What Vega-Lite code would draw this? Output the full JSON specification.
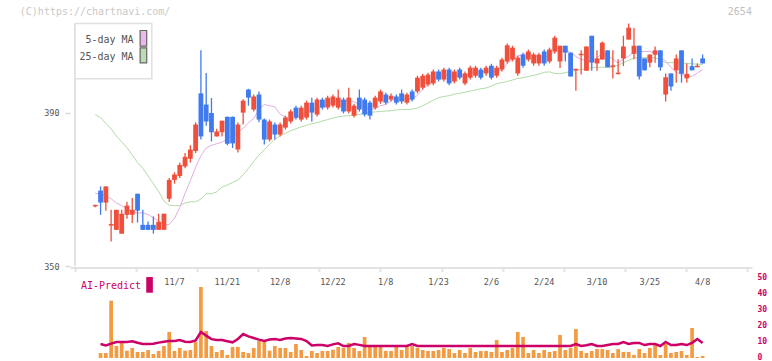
{
"$schema": "https://vega.github.io/schema/vega-lite/v6.json",
"width": 682, "height": 358,
"autosize": {"type": "none"},
"padding": {"left": 70, "top": 0, "right": 20, "bottom": 3},
"background": "white",
"config": {"view": {"stroke": null}, "font": "DejaVu Sans Mono", "axis": {"labelFont": "DejaVu Sans Mono", "grid": false}},
"datasets": {
"k": [
{"i":0,"o":365.6,"h":366.0,"l":365.4,"c":366.0,"v":0,"a":null,"m5":369.0,"m25":389.5},
{"i":1,"o":369.7,"h":370.8,"l":363.4,"c":366.6,"v":3.1,"a":8.75,"m5":368.8,"m25":388.7},
{"i":2,"o":366.6,"h":370.8,"l":364.5,"c":370.8,"v":3.1,"a":7.9,"m5":368.3,"m25":387.2},
{"i":3,"o":360.6,"h":364.7,"l":356.5,"c":361.0,"v":35.8,"a":9.0,"m5":367.6,"m25":385.8},
{"i":4,"o":359.5,"h":364.7,"l":359.5,"c":364.7,"v":7.5,"a":10,"m5":366.5,"m25":383.9},
{"i":5,"o":358.5,"h":364.7,"l":358.5,"c":363.7,"v":10.6,"a":10,"m5":365.8,"m25":382.4},
{"i":6,"o":363.4,"h":366.8,"l":362.4,"c":365.8,"v":4.6,"a":10,"m5":365.0,"m25":380.9},
{"i":7,"o":363.4,"h":367.8,"l":361.3,"c":364.7,"v":6.3,"a":10.4,"m5":364.2,"m25":379.0},
{"i":8,"o":368.9,"h":368.9,"l":361.4,"c":364.5,"v":3.75,"a":9.5,"m5":363.9,"m25":377.0},
{"i":9,"o":360.8,"h":364.7,"l":359.5,"c":359.5,"v":3.75,"a":8.75,"m5":363.9,"m25":375.5},
{"i":10,"o":360.8,"h":361.7,"l":359.5,"c":359.5,"v":5,"a":8.75,"m5":363.5,"m25":373.5},
{"i":11,"o":360.8,"h":363.0,"l":358.5,"c":359.5,"v":2.5,"a":8.9,"m5":362.6,"m25":371.5},
{"i":12,"o":359.5,"h":363.7,"l":359.5,"c":361.6,"v":4.4,"a":9.6,"m5":361.8,"m25":369.5},
{"i":13,"o":359.5,"h":363.7,"l":359.5,"c":363.7,"v":7.5,"a":10.2,"m5":360.8,"m25":367.0},
{"i":14,"o":367.6,"h":373.0,"l":366.8,"c":372.5,"v":16.3,"a":10.6,"m5":360.9,"m25":365.9},
{"i":15,"o":372.5,"h":374.5,"l":371.5,"c":373.9,"v":4.4,"a":10.6,"m5":362.5,"m25":365.8},
{"i":16,"o":373.5,"h":377.0,"l":373.0,"c":376.4,"v":6.3,"a":11.25,"m5":365.3,"m25":365.8},
{"i":17,"o":376.0,"h":379.5,"l":375.5,"c":378.5,"v":4.6,"a":10.2,"m5":369.0,"m25":366.5},
{"i":18,"o":378.0,"h":381.5,"l":377.0,"c":380.4,"v":5,"a":10,"m5":372.3,"m25":366.8},
{"i":19,"o":380.0,"h":387.5,"l":379.5,"c":386.9,"v":10,"a":11,"m5":375.8,"m25":366.8},
{"i":20,"o":395.0,"h":406.2,"l":383.0,"c":383.8,"v":44.4,"a":16.25,"m5":378.8,"m25":367.5},
{"i":21,"o":392.1,"h":400.3,"l":386.6,"c":387.7,"v":16.9,"a":14,"m5":380.8,"m25":368.9},
{"i":22,"o":389.9,"h":393.8,"l":382.5,"c":384.9,"v":7.5,"a":11.8,"m5":381.5,"m25":368.9},
{"i":23,"o":383.8,"h":385.8,"l":383.8,"c":385.1,"v":3.75,"a":11.25,"m5":381.9,"m25":369.4},
{"i":24,"o":384.9,"h":387.9,"l":383.8,"c":387.9,"v":5,"a":11.25,"m5":382.3,"m25":370.6},
{"i":25,"o":388.9,"h":389.0,"l":381.5,"c":381.9,"v":1.9,"a":10.5,"m5":383.2,"m25":371.2},
{"i":26,"o":388.9,"h":389.0,"l":380.8,"c":382.0,"v":6.9,"a":9.8,"m5":384.0,"m25":371.8},
{"i":27,"o":380.4,"h":387.4,"l":379.6,"c":386.9,"v":6.9,"a":11.9,"m5":384.8,"m25":372.5},
{"i":28,"o":390.0,"h":393.5,"l":386.9,"c":393.1,"v":3.75,"a":15,"m5":386.0,"m25":373.8},
{"i":29,"o":396.0,"h":396.2,"l":391.8,"c":393.9,"v":3.1,"a":13.5,"m5":387.3,"m25":375.5},
{"i":30,"o":390.8,"h":394.7,"l":390.3,"c":394.2,"v":6.3,"a":12.5,"m5":388.5,"m25":377.3},
{"i":31,"o":394.7,"h":395.5,"l":387.5,"c":388.2,"v":10.6,"a":11.5,"m5":390.8,"m25":379.0},
{"i":32,"o":388.2,"h":388.5,"l":381.7,"c":383.0,"v":10,"a":10.6,"m5":392.1,"m25":380.3},
{"i":33,"o":383.0,"h":388.2,"l":382.5,"c":387.7,"v":4.6,"a":11.5,"m5":391.8,"m25":381.8},
{"i":34,"o":386.9,"h":387.4,"l":383.0,"c":384.3,"v":7.5,"a":11.9,"m5":391.5,"m25":383.0},
{"i":35,"o":384.3,"h":387.4,"l":383.8,"c":386.9,"v":6.3,"a":11.25,"m5":389.6,"m25":384.0},
{"i":36,"o":386.1,"h":389.2,"l":385.6,"c":388.7,"v":6.3,"a":12.2,"m5":388.8,"m25":384.6},
{"i":37,"o":387.7,"h":390.8,"l":387.2,"c":390.3,"v":3.75,"a":12.5,"m5":388.5,"m25":385.3},
{"i":38,"o":391.3,"h":391.8,"l":388.2,"c":388.7,"v":8.75,"a":12.2,"m5":388.6,"m25":385.8},
{"i":39,"o":388.2,"h":391.8,"l":387.7,"c":391.3,"v":5,"a":11.9,"m5":389.3,"m25":386.3},
{"i":40,"o":388.7,"h":393.1,"l":388.2,"c":392.6,"v":1.25,"a":10.6,"m5":390.3,"m25":386.7},
{"i":41,"o":392.6,"h":393.9,"l":387.7,"c":390.0,"v":4.4,"a":7.8,"m5":390.6,"m25":387.1},
{"i":42,"o":389.5,"h":393.9,"l":389.0,"c":393.4,"v":3.1,"a":8.1,"m5":391.2,"m25":387.4},
{"i":43,"o":393.4,"h":393.9,"l":390.8,"c":391.3,"v":4.4,"a":8.1,"m5":391.7,"m25":387.8},
{"i":44,"o":391.3,"h":394.4,"l":390.8,"c":393.9,"v":4.4,"a":7.5,"m5":392.2,"m25":388.2},
{"i":45,"o":391.8,"h":394.7,"l":391.3,"c":394.2,"v":5.2,"a":8.5,"m5":392.6,"m25":388.6},
{"i":46,"o":391.3,"h":396.0,"l":390.8,"c":393.9,"v":6.9,"a":9.2,"m5":393.3,"m25":388.9},
{"i":47,"o":393.4,"h":393.9,"l":389.8,"c":390.3,"v":6.3,"a":7.5,"m5":392.7,"m25":389.1},
{"i":48,"o":390.3,"h":396.5,"l":389.8,"c":393.9,"v":9.4,"a":7.5,"m5":393.2,"m25":389.2},
{"i":49,"o":389.2,"h":392.3,"l":388.7,"c":391.8,"v":6.3,"a":8.75,"m5":392.8,"m25":389.4},
{"i":50,"o":393.9,"h":396.0,"l":390.3,"c":390.8,"v":4.4,"a":8.2,"m5":392.1,"m25":389.5},
{"i":51,"o":393.4,"h":393.9,"l":389.0,"c":389.5,"v":13.1,"a":7.5,"m5":391.3,"m25":389.8},
{"i":52,"o":392.6,"h":393.1,"l":388.2,"c":389.2,"v":6.9,"a":7.5,"m5":391.0,"m25":390.0},
{"i":53,"o":391.3,"h":394.4,"l":390.8,"c":393.9,"v":6.9,"a":7.5,"m5":391.0,"m25":390.2},
{"i":54,"o":392.9,"h":396.0,"l":392.3,"c":395.5,"v":7.5,"a":7.5,"m5":391.8,"m25":390.3},
{"i":55,"o":394.7,"h":395.2,"l":392.1,"c":392.6,"v":4.4,"a":7.5,"m5":392.1,"m25":390.4},
{"i":56,"o":393.4,"h":395.0,"l":392.9,"c":394.4,"v":4.4,"a":7.5,"m5":393.1,"m25":390.5},
{"i":57,"o":394.2,"h":394.7,"l":392.1,"c":392.6,"v":6.9,"a":7.5,"m5":393.8,"m25":390.7},
{"i":58,"o":395.0,"h":396.0,"l":392.3,"c":392.9,"v":5,"a":7.5,"m5":393.6,"m25":390.8},
{"i":59,"o":392.6,"h":395.2,"l":392.1,"c":394.7,"v":6.9,"a":7.5,"m5":393.4,"m25":390.8},
{"i":60,"o":395.5,"h":396.0,"l":392.9,"c":393.4,"v":7.5,"a":8.75,"m5":393.6,"m25":390.9},
{"i":61,"o":395.5,"h":399.6,"l":395.0,"c":399.1,"v":6.3,"a":7.5,"m5":394.5,"m25":391.2},
{"i":62,"o":396.5,"h":400.1,"l":396.0,"c":399.6,"v":5,"a":7.5,"m5":396.0,"m25":391.8},
{"i":63,"o":397.3,"h":400.4,"l":396.8,"c":399.9,"v":4.4,"a":7.5,"m5":397.4,"m25":392.5},
{"i":64,"o":397.6,"h":401.2,"l":397.1,"c":400.7,"v":4.4,"a":7.5,"m5":398.5,"m25":393.2},
{"i":65,"o":400.7,"h":401.2,"l":398.1,"c":398.6,"v":5,"a":7.5,"m5":399.6,"m25":393.9},
{"i":66,"o":398.6,"h":401.7,"l":398.1,"c":401.2,"v":6.3,"a":7.5,"m5":400.0,"m25":394.2},
{"i":67,"o":401.2,"h":401.7,"l":397.1,"c":397.6,"v":5.6,"a":7.5,"m5":399.6,"m25":394.4},
{"i":68,"o":398.1,"h":401.2,"l":397.6,"c":400.7,"v":3.1,"a":7.5,"m5":399.8,"m25":394.8},
{"i":69,"o":401.2,"h":401.7,"l":398.6,"c":399.1,"v":5,"a":7.5,"m5":399.4,"m25":395.0},
{"i":70,"o":397.6,"h":400.7,"l":397.1,"c":400.2,"v":3.1,"a":7.5,"m5":399.8,"m25":395.3},
{"i":71,"o":399.1,"h":402.2,"l":398.6,"c":401.7,"v":6.3,"a":7.5,"m5":400.1,"m25":395.6},
{"i":72,"o":399.6,"h":402.2,"l":399.1,"c":401.7,"v":3.75,"a":7.5,"m5":400.7,"m25":395.9},
{"i":73,"o":401.2,"h":401.7,"l":398.6,"c":399.1,"v":4.4,"a":7.5,"m5":400.4,"m25":396.2},
{"i":74,"o":400.2,"h":402.2,"l":399.6,"c":401.7,"v":4.4,"a":7.5,"m5":400.9,"m25":396.4},
{"i":75,"o":402.2,"h":402.7,"l":398.6,"c":399.1,"v":3.75,"a":7.5,"m5":400.7,"m25":396.9},
{"i":76,"o":399.6,"h":402.2,"l":399.1,"c":401.7,"v":11.25,"a":7.5,"m5":400.7,"m25":397.5},
{"i":77,"o":401.2,"h":404.3,"l":400.7,"c":403.8,"v":3.75,"a":7.5,"m5":401.1,"m25":397.8},
{"i":78,"o":403.3,"h":408.0,"l":402.8,"c":407.5,"v":5,"a":7.5,"m5":402.8,"m25":398.1},
{"i":79,"o":403.8,"h":407.4,"l":403.3,"c":406.9,"v":6.3,"a":7.5,"m5":403.8,"m25":398.5},
{"i":80,"o":400.2,"h":404.8,"l":399.6,"c":404.3,"v":16.25,"a":7.5,"m5":404.8,"m25":398.9},
{"i":81,"o":405.1,"h":405.6,"l":401.7,"c":402.2,"v":13.1,"a":7.5,"m5":405.1,"m25":399.1},
{"i":82,"o":403.8,"h":406.4,"l":403.3,"c":405.9,"v":3.1,"a":7.5,"m5":405.4,"m25":399.4},
{"i":83,"o":402.8,"h":405.6,"l":402.2,"c":405.1,"v":5,"a":7.5,"m5":404.9,"m25":399.7},
{"i":84,"o":402.8,"h":405.6,"l":402.2,"c":405.1,"v":3.1,"a":7.5,"m5":404.5,"m25":400.0},
{"i":85,"o":405.9,"h":406.4,"l":402.2,"c":402.8,"v":5,"a":7.5,"m5":404.2,"m25":400.5},
{"i":86,"o":403.3,"h":406.9,"l":402.8,"c":406.4,"v":3.75,"a":7.5,"m5":405.1,"m25":400.6},
{"i":87,"o":405.9,"h":410.0,"l":405.3,"c":409.5,"v":4.4,"a":7.5,"m5":405.8,"m25":400.2},
{"i":88,"o":403.3,"h":407.4,"l":401.6,"c":407.4,"v":14.4,"a":7.5,"m5":406.0,"m25":400.1},
{"i":89,"o":407.4,"h":407.4,"l":403.3,"c":405.6,"v":5,"a":7.5,"m5":406.3,"m25":400.4},
{"i":90,"o":405.6,"h":405.6,"l":399.4,"c":399.4,"v":6.3,"a":7.5,"m5":405.7,"m25":400.7},
{"i":91,"o":401.0,"h":401.4,"l":395.7,"c":401.4,"v":18.1,"a":8.75,"m5":404.6,"m25":401.0},
{"i":92,"o":404.9,"h":406.2,"l":399.9,"c":405.3,"v":4.4,"a":7.5,"m5":403.8,"m25":401.2},
{"i":93,"o":400.9,"h":407.2,"l":400.9,"c":407.2,"v":3.1,"a":8.0,"m5":403.7,"m25":401.5},
{"i":94,"o":410.0,"h":410.0,"l":400.9,"c":403.0,"v":4.4,"a":8.75,"m5":403.2,"m25":401.7},
{"i":95,"o":402.8,"h":406.2,"l":400.9,"c":404.1,"v":5.6,"a":7.5,"m5":404.2,"m25":401.8},
{"i":96,"o":403.8,"h":408.5,"l":403.8,"c":408.2,"v":5.6,"a":7.5,"m5":405.5,"m25":401.8},
{"i":97,"o":406.2,"h":406.2,"l":401.8,"c":401.8,"v":5,"a":8.1,"m5":404.9,"m25":401.8},
{"i":98,"o":401.9,"h":406.2,"l":398.9,"c":402.3,"v":3.1,"a":8.75,"m5":403.9,"m25":401.8},
{"i":99,"o":400.0,"h":403.9,"l":400.0,"c":400.4,"v":5.6,"a":8.75,"m5":402.9,"m25":402.3},
{"i":100,"o":404.1,"h":410.0,"l":402.1,"c":407.2,"v":3.75,"a":10,"m5":403.9,"m25":403.0},
{"i":101,"o":409.0,"h":413.2,"l":409.0,"c":412.1,"v":3.75,"a":8.75,"m5":404.7,"m25":403.6},
{"i":102,"o":405.3,"h":412.0,"l":403.9,"c":407.4,"v":1.9,"a":9.4,"m5":405.9,"m25":404.2},
{"i":103,"o":407.4,"h":407.4,"l":398.6,"c":399.4,"v":5.6,"a":9.4,"m5":405.9,"m25":404.3},
{"i":104,"o":404.1,"h":404.1,"l":401.0,"c":401.0,"v":3.1,"a":8.1,"m5":405.9,"m25":404.3},
{"i":105,"o":403.0,"h":405.1,"l":401.8,"c":405.1,"v":6.3,"a":8.75,"m5":405.9,"m25":404.3},
{"i":106,"o":405.1,"h":407.2,"l":403.0,"c":406.2,"v":8.75,"a":8.75,"m5":405.5,"m25":404.3},
{"i":107,"o":406.2,"h":406.2,"l":400.9,"c":401.8,"v":1.9,"a":7.5,"m5":404.5,"m25":403.6},
{"i":108,"o":394.7,"h":400.2,"l":392.9,"c":399.2,"v":8.75,"a":10,"m5":403.4,"m25":403.0},
{"i":109,"o":400.2,"h":400.2,"l":395.7,"c":396.8,"v":3.1,"a":8.1,"m5":401.8,"m25":403.0},
{"i":110,"o":401.0,"h":405.1,"l":397.8,"c":404.1,"v":3.75,"a":8.1,"m5":400.5,"m25":403.0},
{"i":111,"o":406.2,"h":406.2,"l":397.8,"c":400.1,"v":4.4,"a":8.75,"m5":400.0,"m25":402.9},
{"i":112,"o":398.9,"h":402.8,"l":397.8,"c":400.1,"v":1.9,"a":8.1,"m5":399.3,"m25":402.8},
{"i":113,"o":402.1,"h":404.1,"l":401.0,"c":401.0,"v":18.75,"a":9.5,"m5":399.5,"m25":402.7},
{"i":114,"o":401.8,"h":402.8,"l":401.8,"c":402.2,"v":0.6,"a":11.9,"m5":400.3,"m25":402.6},
{"i":115,"o":404.1,"h":405.1,"l":402.8,"c":402.8,"v":1.25,"a":9.4,"m5":401.2,"m25":402.5}
],
"dates": [
{"i":15,"d":"11/7"},{"i":25,"d":"11/21"},{"i":35,"d":"12/8"},{"i":45,"d":"12/22"},{"i":55,"d":"1/8"},{"i":65,"d":"1/23"},{"i":75,"d":"2/6"},{"i":85,"d":"2/24"},{"i":95,"d":"3/10"},{"i":105,"d":"3/25"},{"i":115,"d":"4/8"}
]
},
"data": {"name": "k"},
"resolve": {"scale": {"y": "independent"}},
"layer": [
{
"layer": [
{"mark": {"type": "line", "color": "#b3dba6", "strokeWidth": 1},
 "encoding": {
  "x": {"field": "i", "type": "quantitative", "scale": {"domain": [-3.84, 123.4], "nice": false, "zero": false},
        "axis": {"orient": "bottom", "offset": -90.5, "values": [-3.84, 7.727, 19.294, 30.861, 42.428, 53.995, 65.562, 77.129, 88.696, 100.263, 111.83, 123.397], "labels": false, "title": null, "domainColor": "#e2e2e2", "domainWidth": 2, "tickColor": "#e2e2e2", "tickWidth": 2, "tickSize": 4, "grid": false}},
  "y": {"field": "m25", "type": "quantitative", "scale": {"domain": [326.16, 419.3], "nice": false, "zero": false},
        "axis": {"orient": "left", "values": [350, 390], "domain": false, "tickSize": 5, "tickColor": "#d8d8d8", "tickWidth": 1.5, "labelPadding": 6, "labelFontSize": 8.5, "labelColor": "#555555", "title": null, "grid": false}}
 }},
{"mark": {"type": "line", "color": "#e4ace4", "strokeWidth": 1},
 "encoding": {
  "x": {"field": "i", "type": "quantitative", "scale": {"domain": [-3.84, 123.4], "nice": false, "zero": false}},
  "y": {"field": "m5", "type": "quantitative", "scale": {"domain": [326.16, 419.3], "nice": false, "zero": false}}
 }},
{"mark": {"type": "rule", "strokeWidth": 1.3},
 "encoding": {
  "x": {"field": "i", "type": "quantitative", "scale": {"domain": [-3.84, 123.4], "nice": false, "zero": false}},
  "y": {"field": "l", "type": "quantitative", "scale": {"domain": [326.16, 419.3], "nice": false, "zero": false}},
  "y2": {"field": "h"},
  "color": {"condition": {"test": "datum.c >= datum.o", "value": "#f04f3b"}, "value": "#3f7bef"}
 }},
{"mark": {"type": "bar", "width": 4.8},
 "encoding": {
  "x": {"field": "i", "type": "quantitative", "scale": {"domain": [-3.84, 123.4], "nice": false, "zero": false}},
  "y": {"field": "o", "type": "quantitative", "scale": {"domain": [326.16, 419.3], "nice": false, "zero": false}},
  "y2": {"field": "c"},
  "color": {"condition": {"test": "datum.c >= datum.o", "value": "#f04f3b"}, "value": "#3f7bef"}
 }},
{"data": {"values": [{}]},
 "mark": {"type": "rule", "color": "#e2e2e2", "strokeWidth": 2},
 "encoding": {
  "x": {"datum": -3.84, "type": "quantitative", "scale": {"domain": [-3.84, 123.4], "nice": false, "zero": false}},
  "y": {"datum": 350, "type": "quantitative", "scale": {"domain": [326.16, 419.3], "nice": false, "zero": false}},
  "y2": {"datum": 413.19}
 }},
{"data": {"values": [{}]},
 "mark": {"type": "rect", "fill": "white", "stroke": "#e0e0e0", "strokeWidth": 1.5},
 "encoding": {
  "x": {"datum": -3.84, "type": "quantitative", "scale": {"domain": [-3.84, 123.4], "nice": false, "zero": false}},
  "x2": {"datum": 10.71},
  "y": {"datum": 413.19, "type": "quantitative", "scale": {"domain": [326.16, 419.3], "nice": false, "zero": false}},
  "y2": {"datum": 398.8}
 }},
{"data": {"values": [{}]},
 "mark": {"type": "rect", "fill": "#ebb8eb", "stroke": "#666666", "strokeWidth": 1.2},
 "encoding": {
  "x": {"datum": 8.49, "type": "quantitative", "scale": {"domain": [-3.84, 123.4], "nice": false, "zero": false}},
  "x2": {"datum": 9.74},
  "y": {"datum": 411.37, "type": "quantitative", "scale": {"domain": [326.16, 419.3], "nice": false, "zero": false}},
  "y2": {"datum": 407.28}
 }},
{"data": {"values": [{}]},
 "mark": {"type": "rect", "fill": "#bcdcb2", "stroke": "#666666", "strokeWidth": 1.2},
 "encoding": {
  "x": {"datum": 8.49, "type": "quantitative", "scale": {"domain": [-3.84, 123.4], "nice": false, "zero": false}},
  "x2": {"datum": 9.74},
  "y": {"datum": 406.86, "type": "quantitative", "scale": {"domain": [326.16, 419.3], "nice": false, "zero": false}},
  "y2": {"datum": 402.95}
 }},
{"data": {"values": [{"t": "5-day MA"}]},
 "mark": {"type": "text", "align": "right", "baseline": "middle", "fontSize": 10, "color": "#555555", "font": "DejaVu Sans Mono"},
 "encoding": {
  "x": {"datum": 7.26, "type": "quantitative", "scale": {"domain": [-3.84, 123.4], "nice": false, "zero": false}},
  "y": {"datum": 408.84, "type": "quantitative", "scale": {"domain": [326.16, 419.3], "nice": false, "zero": false}},
  "text": {"field": "t"}
 }},
{"data": {"values": [{"t": "25-day MA"}]},
 "mark": {"type": "text", "align": "right", "baseline": "middle", "fontSize": 10, "color": "#555555", "font": "DejaVu Sans Mono"},
 "encoding": {
  "x": {"datum": 7.26, "type": "quantitative", "scale": {"domain": [-3.84, 123.4], "nice": false, "zero": false}},
  "y": {"datum": 404.51, "type": "quantitative", "scale": {"domain": [326.16, 419.3], "nice": false, "zero": false}},
  "text": {"field": "t"}
 }},
{"data": {"values": [{"t": "(C)https://chartnavi.com/"}]},
 "mark": {"type": "text", "align": "left", "baseline": "middle", "fontSize": 10, "color": "#c8c8c8", "font": "DejaVu Sans Mono"},
 "encoding": {
  "x": {"datum": -14.29, "type": "quantitative", "scale": {"domain": [-3.84, 123.4], "nice": false, "zero": false}},
  "y": {"datum": 416.14, "type": "quantitative", "scale": {"domain": [326.16, 419.3], "nice": false, "zero": false}},
  "text": {"field": "t"}
 }},
{"data": {"values": [{"t": "2654"}]},
 "mark": {"type": "text", "align": "right", "baseline": "middle", "fontSize": 10, "color": "#c0c0c0", "font": "DejaVu Sans Mono"},
 "encoding": {
  "x": {"datum": 124.33, "type": "quantitative", "scale": {"domain": [-3.84, 123.4], "nice": false, "zero": false}},
  "y": {"datum": 416.14, "type": "quantitative", "scale": {"domain": [326.16, 419.3], "nice": false, "zero": false}},
  "text": {"field": "t"}
 }}
]
},
{
"layer": [
{"mark": {"type": "bar", "width": 3.7, "color": "#f39b42"},
 "encoding": {
  "x": {"field": "i", "type": "quantitative", "scale": {"domain": [-3.84, 123.4], "nice": false, "zero": false}},
  "y": {"field": "v", "type": "quantitative", "scale": {"domain": [0, 223.75], "nice": false, "zero": false},
        "axis": {"orient": "right", "values": [0, 10, 20, 30, 40, 50], "domain": false, "ticks": false, "labelPadding": 5, "labelFontSize": 8, "labelFontWeight": "bold", "labelOffset": -0.5, "labelColor": "#cc0066", "title": null, "grid": false}}
 }},
{"mark": {"type": "line", "color": "#cc0066", "strokeWidth": 2.5},
 "encoding": {
  "x": {"field": "i", "type": "quantitative", "scale": {"domain": [-3.84, 123.4], "nice": false, "zero": false}},
  "y": {"field": "a", "type": "quantitative", "scale": {"domain": [0, 223.75], "nice": false, "zero": false}}
 }},
{"data": {"name": "dates"},
 "mark": {"type": "text", "align": "center", "baseline": "middle", "fontSize": 8.5, "color": "#555555", "font": "DejaVu Sans Mono"},
 "encoding": {
  "x": {"field": "i", "type": "quantitative", "scale": {"domain": [-3.84, 123.4], "nice": false, "zero": false}},
  "y": {"datum": 47.5, "type": "quantitative", "scale": {"domain": [0, 223.75], "nice": false, "zero": false}},
  "text": {"field": "d"}
 }},
{"data": {"values": [{"t": "AI-Predict"}]},
 "mark": {"type": "text", "align": "left", "baseline": "middle", "fontSize": 10, "color": "#cc0066", "font": "DejaVu Sans Mono"},
 "encoding": {
  "x": {"datum": -2.72, "type": "quantitative", "scale": {"domain": [-3.84, 123.4], "nice": false, "zero": false}},
  "y": {"datum": 45, "type": "quantitative", "scale": {"domain": [0, 223.75], "nice": false, "zero": false}},
  "text": {"field": "t"}
 }},
{"data": {"values": [{}]},
 "mark": {"type": "rect", "fill": "#cc0066"},
 "encoding": {
  "x": {"datum": 9.65, "type": "quantitative", "scale": {"domain": [-3.84, 123.4], "nice": false, "zero": false}},
  "x2": {"datum": 10.9},
  "y": {"datum": 50.6, "type": "quantitative", "scale": {"domain": [0, 223.75], "nice": false, "zero": false}},
  "y2": {"datum": 40.8}
 }}
]
}
]
}
